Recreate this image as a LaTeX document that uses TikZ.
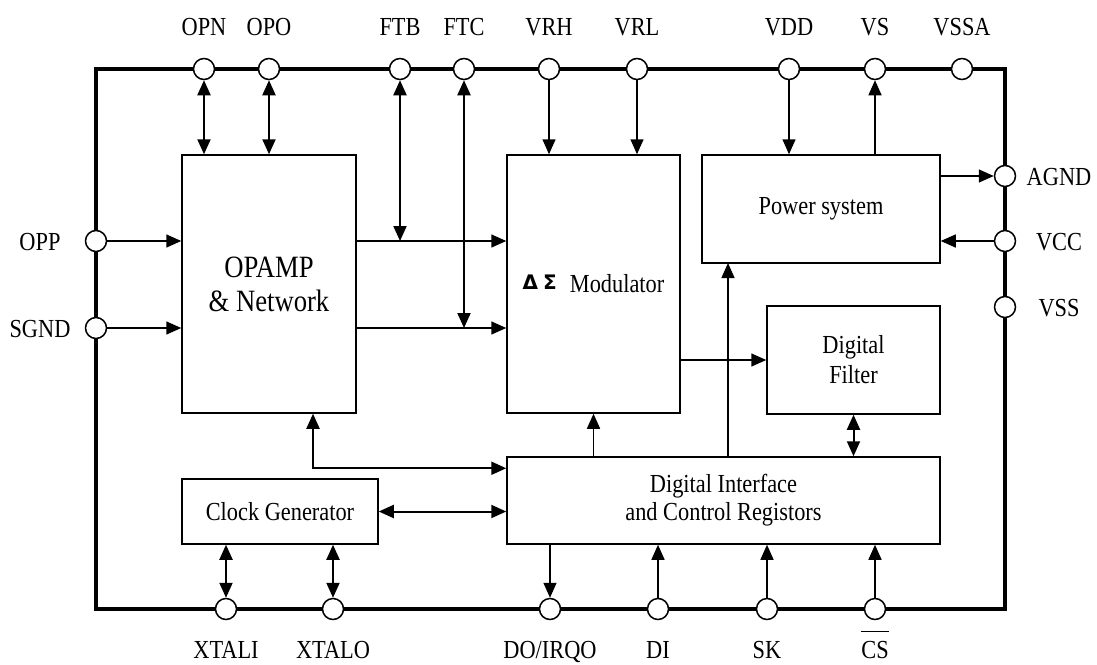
\documentclass[tikz,border=0pt]{standalone}
\usepackage{fontspec}
\setmainfont{Liberation Serif}[FakeStretch=0.86]
\newfontfamily\symfnt{DejaVu Sans}
\usetikzlibrary{arrows.meta}

\begin{document}
\begin{tikzpicture}[x=1pt,y=-1pt,
		>={Triangle[length=15pt,width=13pt]},
		font=\fontsize{26}{28}\selectfont,
		frame/.style={line width=3.2pt},
		pin/.style={draw,fill=white,circle,line width=1.5pt,minimum size=21pt,inner sep=0pt},
		lbl/.style={inner sep=0pt,text height=17pt,text depth=0pt},
		blk/.style={draw,line width=1.5pt,inner sep=0pt,align=center},
		sig/.style={line width=1.5pt},
		bi/.style={line width=2pt,<->}
		]
		\useasboundingbox (0,0) rectangle (1097,664);
		\draw[frame] (96,69) rectangle (1005,609);
		
		% pins
		\foreach \nm/\x in {OPN/204,OPO/269,FTB/400,FTC/464,VRH/549,VRL/637,VDD/789,VS/875,VSSA/962} {
			\node[pin] (\nm) at (\x,69) {};
			\node[lbl] (l\nm) at (\x,26.5) {\nm};
		}
		\foreach \nm/\y in {OPP/241,SGND/328} {
			\node[pin] (\nm) at (96,\y) {};
			\node[lbl] (l\nm) at (40,\y+0.5) {\nm};
		}
		\foreach \nm/\y in {AGND/176,VCC/241,VSS/307} {
			\node[pin] (\nm) at (1005,\y) {};
			\node[lbl] (l\nm) at (1059,\y+0.5) {\nm};
		}
		\foreach \nm/\x/\txt in {XTALI/226/XTALI,XTALO/333/XTALO,DOIRQO/550/{DO/IRQO},DI/658/DI,SK/767/SK,CS/875/{$\overline{\rule{0pt}{26pt}\mbox{CS}}$}} {
			\node[pin] (\nm) at (\x,609) {};
			\node[lbl] (l\nm) at (\x,650) {\txt};
		}
		
		% blocks
		\node[blk,minimum width=174pt,minimum height=258pt,font=\fontsize{31}{34}\selectfont] (opamp) at (269,284) {OPAMP\\\& Network};
		\node[blk,minimum width=173pt,minimum height=258pt] (mod) at (593.5,284) {\raisebox{3pt}{\symfnt\bfseries\fontsize{20}{22}\selectfont Δ\hspace{5pt}Σ}\hspace{13pt}Modulator};
		\node[blk,minimum width=238pt,minimum height=108pt] (power) at (821,209) {Power system};
		\node[blk,minimum width=173pt,minimum height=108pt,font=\fontsize{26}{30}\selectfont] (filter) at (853.5,360) {Digital\\Filter};
		\node[blk,minimum width=433pt,minimum height=87pt] (dif) at (723.5,500.5) {Digital Interface\\and Control Registors};
		\node[blk,minimum width=196pt,minimum height=65pt] (clock) at (280,511.5) {Clock Generator};
		\coordinate (ps) at (728,263);
		
		% top side
		\draw[bi] (OPN) -- (OPN |- opamp.north);
		\draw[bi] (OPO) -- (OPO |- opamp.north);
		\draw[bi] (FTB) -- (FTB |- OPP);
		\draw[bi] (FTC) -- (FTC |- SGND);
		\draw[sig,->] (VRH) -- (VRH |- mod.north);
		\draw[sig,->] (VRL) -- (VRL |- mod.north);
		\draw[sig,->] (VDD) -- (VDD |- power.north);
		\draw[sig,->] (VS |- power.north) -- (VS);
		% left and right
		\draw[sig,->] (OPP) -- (OPP -| opamp.west);
		\draw[sig,->] (SGND) -- (SGND -| opamp.west);
		\draw[sig,->] (opamp.east |- OPP) -- (mod.west |- OPP);
		\draw[sig,->] (opamp.east |- SGND) -- (mod.west |- SGND);
		\draw[sig,->] (power.east |- AGND) -- (AGND);
		\draw[sig,->] (VCC) -- (power.east |- VCC);
		% inside
		\draw[sig,->] (mod.east |- filter) -- (filter.west);
		\draw[sig,->] (ps |- dif.north) -- (ps);
		\draw[sig,->] (mod.south |- dif.north) -- (mod.south);
		\draw[bi] (filter.south) -- (filter.south |- dif.north);
		\draw[bi] ([xshift=44pt]opamp.south) |- ([yshift=-12pt]dif.north west);
		\draw[bi] (clock.east) -- (clock.east -| dif.west);
		% bottom side
		\draw[bi] (clock.south -| XTALI) -- (XTALI);
		\draw[bi] (clock.south -| XTALO) -- (XTALO);
		\draw[sig,->] (dif.south -| DOIRQO) -- (DOIRQO);
		\draw[sig,->] (DI) -- (DI |- dif.south);
		\draw[sig,->] (SK) -- (SK |- dif.south);
		\draw[sig,->] (CS) -- (CS |- dif.south);
	\end{tikzpicture}
\end{document}
